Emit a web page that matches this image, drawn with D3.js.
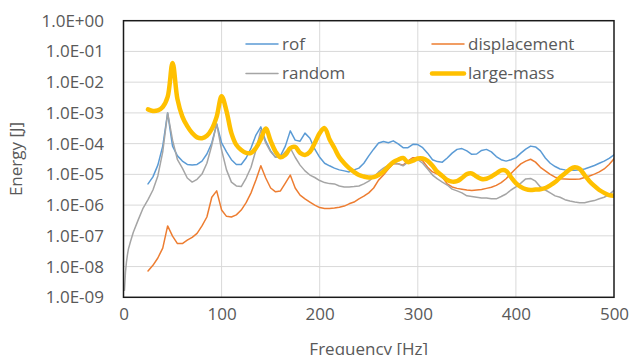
<!DOCTYPE html>
<html>
<head>
<meta charset="utf-8">
<script src="https://cdn.jsdelivr.net/npm/d3@7"></script>
<style>
  html, body { margin: 0; padding: 0; background: #fff; }
  svg { display: block; font-family: "Open Sans", sans-serif; }
</style>
</head>
<body>
<svg width="631" height="355"></svg>
<script>
// frequency grid [Hz]
const freq = [25, 30, 35, 40, 45, 50, 55, 60, 65, 70, 75, 80, 85, 90, 95, 100,
  105, 110, 115, 120, 125, 130, 135, 140, 145, 150, 155, 160, 165, 170, 175, 180,
  185, 190, 195, 200, 205, 210, 215, 220, 225, 230, 235, 240, 245, 250, 255, 260,
  265, 270, 275, 280, 285, 290, 295, 300, 305, 310, 315, 320, 325, 330, 335, 340,
  345, 350, 355, 360, 365, 370, 375, 380, 385, 390, 395, 400, 405, 410, 415, 420,
  425, 430, 435, 440, 445, 450, 455, 460, 465, 470, 475, 480, 485, 490, 495, 500];

// energies [J]
const rof = [4.9e-6, 8.3e-6, 2.0e-5, 8.3e-5, 1.0e-3, 8.3e-5, 4.0e-5, 2.7e-5, 2.1e-5, 2.0e-5, 2.1e-5, 2.7e-5, 4.6e-5, 1.05e-4, 4.4e-4, 1.05e-4,
  5.4e-5, 3.0e-5, 2.1e-5, 2.1e-5, 3.4e-5, 7.2e-5, 1.9e-4, 3.5e-4, 1.2e-4, 5.8e-5, 3.6e-5, 4.0e-5, 8.3e-5, 2.6e-4, 1.3e-4, 1.2e-4,
  2.2e-4, 1.5e-4, 6.6e-5, 3.6e-5, 2.3e-5, 1.9e-5, 1.6e-5, 1.4e-5, 1.3e-5, 1.2e-5, 1.4e-5, 1.6e-5, 2.3e-5, 4.0e-5, 6.6e-5, 1.05e-4,
  1.17e-4, 1.07e-4, 1.23e-4, 9.8e-5, 7.4e-5, 7.4e-5, 9.5e-5, 9.3e-5, 7.4e-5, 4.9e-5, 3.0e-5, 2.6e-5, 2.5e-5, 3.4e-5, 4.9e-5, 6.5e-5,
  6.9e-5, 5.8e-5, 4.5e-5, 4.6e-5, 6.0e-5, 6.5e-5, 5.4e-5, 3.8e-5, 3.0e-5, 2.7e-5, 3.0e-5, 3.5e-5, 4.9e-5, 6.6e-5, 8.3e-5, 7.8e-5,
  5.8e-5, 3.4e-5, 2.3e-5, 1.8e-5, 1.5e-5, 1.4e-5, 1.35e-5, 1.35e-5, 1.4e-5, 1.5e-5, 1.7e-5, 1.95e-5, 2.3e-5, 2.7e-5, 3.3e-5, 4.3e-5];

const displacement = [7.2e-9, 1.1e-8, 1.9e-8, 4.0e-8, 2.1e-7, 9.8e-8, 5.6e-8, 5.6e-8, 7.2e-8, 8.9e-8, 1.2e-7, 2.1e-7, 4.1e-7, 1.8e-6, 2.9e-6, 6.9e-7,
  4.3e-7, 4.1e-7, 4.8e-7, 6.9e-7, 1.2e-6, 2.5e-6, 6.6e-6, 1.9e-5, 7.6e-6, 3.6e-6, 2.7e-6, 2.9e-6, 5.2e-6, 9.5e-6, 3.6e-6, 2.1e-6,
  1.6e-6, 1.26e-6, 1.0e-6, 8.3e-7, 7.8e-7, 7.8e-7, 8.0e-7, 8.5e-7, 9.3e-7, 1.1e-6, 1.26e-6, 1.6e-6, 1.95e-6, 2.5e-6, 3.6e-6, 6.5e-6,
  9.5e-6, 1.5e-5, 2.2e-5, 2.2e-5, 2.0e-5, 2.75e-5, 3.5e-5, 3.4e-5, 2.75e-5, 1.7e-5, 1.2e-5, 1.02e-5, 8.1e-6, 4.9e-6, 3.9e-6, 3.5e-6,
  3.3e-6, 3.1e-6, 3.0e-6, 3.1e-6, 3.2e-6, 3.5e-6, 3.8e-6, 4.4e-6, 5.4e-6, 7.2e-6, 1.07e-5, 1.55e-5, 2.2e-5, 2.7e-5, 3.1e-5, 2.5e-5,
  1.7e-5, 1.3e-5, 1.0e-5, 8.1e-6, 7.2e-6, 7.1e-6, 6.9e-6, 6.9e-6, 7.1e-6, 7.9e-6, 8.9e-6, 1.02e-5, 1.2e-5, 1.5e-5, 2.1e-5, 3.2e-5];

// random also has a few low-frequency points below 25 Hz
const randomLowFreq = [1, 2, 3, 4, 5, 7, 10, 15, 20];
const randomLow = [1.7e-9, 6.6e-9, 1.4e-8, 2.4e-8, 3.7e-8, 6.3e-8, 1.3e-7, 3.3e-7, 8.0e-7];
const random = [1.5e-6, 3.1e-6, 8.9e-6, 5.4e-5, 1.0e-3, 1.3e-4, 3.0e-5, 1.6e-5, 7.6e-6, 5.6e-6, 6.9e-6, 1.02e-5, 2.3e-5, 8.9e-5, 4.4e-4, 6.2e-5,
  1.4e-5, 5.6e-6, 4.2e-6, 4.0e-6, 7.6e-6, 1.7e-5, 6.2e-5, 2.8e-4, 1.05e-4, 5.4e-5, 3.6e-5, 3.6e-5, 5.4e-5, 7.2e-5, 3.6e-5, 2.0e-5,
  1.3e-5, 9.5e-6, 7.9e-6, 6.3e-6, 5.4e-6, 5.0e-6, 4.9e-6, 4.2e-6, 3.9e-6, 3.9e-6, 4.0e-6, 4.2e-6, 4.9e-6, 6.0e-6, 8.1e-6, 1.2e-5,
  1.6e-5, 2.0e-5, 2.3e-5, 2.2e-5, 1.9e-5, 2.5e-5, 3.2e-5, 3.0e-5, 2.3e-5, 1.5e-5, 9.5e-6, 7.1e-6, 5.6e-6, 4.5e-6, 3.3e-6, 2.9e-6,
  2.5e-6, 2.0e-6, 1.9e-6, 1.8e-6, 1.7e-6, 1.7e-6, 1.6e-6, 1.6e-6, 1.9e-6, 2.3e-6, 3.1e-6, 3.9e-6, 5.2e-6, 7.1e-6, 7.4e-6, 6.0e-6,
  3.9e-6, 3.1e-6, 2.5e-6, 2.0e-6, 1.8e-6, 1.5e-6, 1.35e-6, 1.26e-6, 1.2e-6, 1.2e-6, 1.3e-6, 1.4e-6, 1.6e-6, 1.8e-6, 2.2e-6, 3.0e-6];

const largeMass = [1.3e-3, 1.15e-3, 1.2e-3, 1.55e-3, 3.3e-3, 4.2e-2, 2.8e-3, 7.6e-4, 3.7e-4, 2.2e-4, 1.6e-4, 1.5e-4, 1.8e-4, 3.0e-4, 7.6e-4, 3.5e-3,
  1.15e-3, 2.2e-4, 9.1e-5, 6.2e-5, 5.0e-5, 5.0e-5, 7.2e-5, 1.4e-4, 3.1e-4, 1.23e-4, 5.5e-5, 3.6e-5, 4.3e-5, 7.2e-5, 7.8e-5, 5.0e-5,
  4.3e-5, 5.4e-5, 1.05e-4, 2.2e-4, 3.2e-4, 1.4e-4, 7.2e-5, 3.6e-5, 2.3e-5, 1.6e-5, 1.2e-5, 9.5e-6, 8.5e-6, 7.9e-6, 8.1e-6, 9.5e-6,
  1.23e-5, 1.8e-5, 2.5e-5, 3.0e-5, 3.4e-5, 2.5e-5, 2.8e-5, 3.3e-5, 3.3e-5, 2.75e-5, 1.9e-5, 1.2e-5, 8.9e-6, 6.6e-6, 5.8e-6, 6.0e-6,
  7.6e-6, 1.02e-5, 1.07e-5, 8.5e-6, 7.1e-6, 7.2e-6, 8.5e-6, 1.07e-5, 1.35e-5, 1.3e-5, 8.1e-6, 5.2e-6, 3.9e-6, 3.3e-6, 3.1e-6, 3.2e-6,
  3.3e-6, 3.6e-6, 4.4e-6, 5.6e-6, 7.9e-6, 1.07e-5, 1.45e-5, 1.7e-5, 1.5e-5, 9.5e-6, 6.0e-6, 4.2e-6, 3.1e-6, 2.5e-6, 2.1e-6, 2.0e-6];

const xTicks = [0, 100, 200, 300, 400, 500];
const yTicks = [1e-9, 1e-8, 1e-7, 1e-6, 1e-5, 1e-4, 1e-3, 1e-2, 1e-1, 1];

const seriesNames = ["rof", "displacement", "random", "large-mass"];
const seriesColors = ["#5B9BD5", "#ED7D31", "#A5A5A5", "#FFC000"];
const seriesWidths = [1.5, 1.5, 1.5, 4.5];

const $svg = d3.select("svg");
const width = +$svg.attr("width");
const height = +$svg.attr("height");
const margin = { top: 20.7, right: 17, bottom: 57.7, left: 123.5 };
const innerW = width - margin.left - margin.right;
const innerH = height - margin.top - margin.bottom;
const textColor = "#595959";

const x = d3.scaleLinear().domain([0, 500]).range([margin.left, width - margin.right]);
const y = d3.scaleLog().domain([1e-9, 1]).range([height - margin.bottom, margin.top]);

const fmtExp = (d) => {
  const e = Math.round(Math.log10(d));
  return "1.0E" + (e < 0 ? "-" : "+") + String(Math.abs(e)).padStart(2, "0");
};

// gridlines
const $grid = $svg.append("g").attr("class", "grid");
$grid.selectAll("line.h")
  .data(yTicks.slice(1, -1))
  .enter()
  .append("line")
  .attr("class", "h")
  .attr("x1", margin.left).attr("x2", width - margin.right)
  .attr("y1", (d) => y(d)).attr("y2", (d) => y(d))
  .attr("stroke", "#D9D9D9").attr("stroke-width", 1);
$grid.selectAll("line.v")
  .data(xTicks.slice(1, -1))
  .enter()
  .append("line")
  .attr("class", "v")
  .attr("x1", (d) => x(d)).attr("x2", (d) => x(d))
  .attr("y1", margin.top).attr("y2", height - margin.bottom)
  .attr("stroke", "#D9D9D9").attr("stroke-width", 1);

// axes (labels only)
const $yAxis = $svg.append("g")
  .attr("transform", `translate(${margin.left},0)`)
  .call(d3.axisLeft(y).tickValues(yTicks).tickFormat(fmtExp).tickSize(0).tickPadding(19.5));
const $xAxis = $svg.append("g")
  .attr("transform", `translate(0,${height - margin.bottom})`)
  .call(d3.axisBottom(x).tickValues(xTicks).tickFormat(d3.format("d")).tickSize(0).tickPadding(10.5));
[$yAxis, $xAxis].forEach(($a) => {
  $a.select(".domain").remove();
  $a.selectAll("text")
    .attr("fill", textColor)
    .style("font-family", "'Open Sans', sans-serif")
    .style("font-size", "17px");
});

// series
const clipId = "plot-clip";
$svg.append("clipPath").attr("id", clipId)
  .append("rect")
  .attr("x", margin.left).attr("y", margin.top)
  .attr("width", innerW).attr("height", innerH);

const series = [
  { f: freq, v: rof },
  { f: freq, v: displacement },
  { f: randomLowFreq.concat(freq), v: randomLow.concat(random) },
  { f: freq, v: largeMass },
];

const $lines = $svg.append("g").attr("clip-path", `url(#${clipId})`);
series.forEach((s, i) => {
  const pts = s.f.map((f, j) => [f, s.v[j]]);
  const line = d3.line()
    .x((d) => x(d[0]))
    .y((d) => y(d[1]))
    .curve(i === 3 ? d3.curveCatmullRom.alpha(0.5) : d3.curveLinear);
  $lines.append("path")
    .datum(pts)
    .attr("fill", "none")
    .attr("stroke", seriesColors[i])
    .attr("stroke-width", seriesWidths[i])
    .attr("stroke-linejoin", "round")
    .attr("stroke-linecap", "round")
    .attr("d", line);
});

// plot frame
$svg.append("rect")
  .attr("x", margin.left).attr("y", margin.top)
  .attr("width", innerW).attr("height", innerH)
  .attr("fill", "none")
  .attr("stroke", "#1a1a1a")
  .attr("stroke-width", 1.5);

// legend
const legendPos = [[246, 44], [432, 44], [246, 73.5], [432, 73.5]];
const $legend = $svg.append("g").attr("class", "legend");
seriesNames.forEach((name, i) => {
  const [lx, ly] = legendPos[i];
  $legend.append("line")
    .attr("x1", lx).attr("x2", lx + 32)
    .attr("y1", ly).attr("y2", ly)
    .attr("stroke", seriesColors[i])
    .attr("stroke-width", seriesWidths[i])
    .attr("stroke-linecap", "round");
  $legend.append("text")
    .attr("x", lx + 36)
    .attr("y", ly + 5.8)
    .attr("fill", textColor)
    .style("font-size", "17px")
    .text(name);
});

// axis titles
$svg.append("text")
  .attr("x", (margin.left + width - margin.right) / 2)
  .attr("y", 355)
  .attr("text-anchor", "middle")
  .attr("fill", textColor)
  .style("font-size", "17px")
  .text("Frequency [Hz]");
$svg.append("text")
  .attr("transform", "rotate(-90)")
  .attr("x", -(margin.top + innerH / 2))
  .attr("y", 22)
  .attr("text-anchor", "middle")
  .attr("fill", textColor)
  .style("font-size", "17px")
  .text("Energy [J]");
</script>
</body>
</html>
